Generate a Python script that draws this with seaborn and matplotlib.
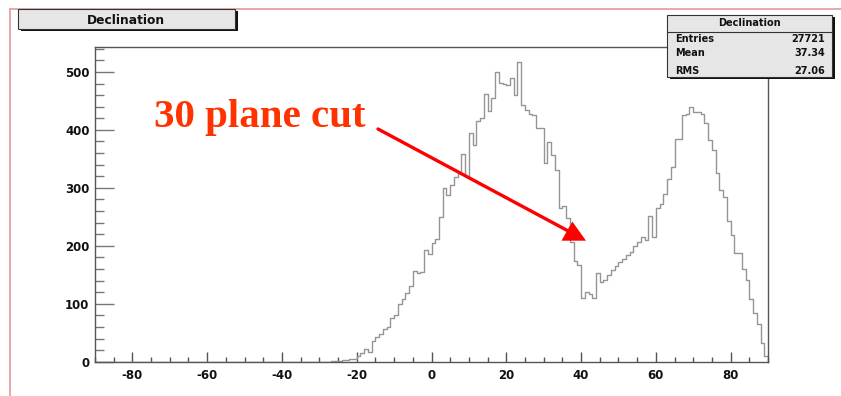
import numpy as np
import pandas as pd
import matplotlib
matplotlib.use("Agg")
import matplotlib.pyplot as plt
import seaborn as sns
from matplotlib.patches import Rectangle, Polygon
from matplotlib.lines import Line2D
from matplotlib.ticker import MultipleLocator

# ---- data -------------------------------------------------------------
bin_edges_range = (-90, 90)          # histogram range (degrees), 1-degree bins
first_nonzero_bin = -27              # left edge of first filled bin
counts_nonzero = [
    1, 1, 2, 3, 3, 4, 5,                                   # -27 .. -21
    10, 15, 22, 17, 35, 43, 48, 56, 60, 76,                # -20 .. -11
    80, 100, 108, 118, 130, 156, 153, 155, 193, 185,       # -10 .. -1
    205, 212, 250, 299, 288, 305, 319, 328, 358, 320,      # 0 .. 9
    395, 374, 415, 420, 462, 432, 455, 500, 481, 480,      # 10 .. 19
    478, 490, 461, 517, 443, 435, 428, 425, 403, 403,      # 20 .. 29
    343, 379, 357, 331, 265, 268, 248, 207, 173, 167,      # 30 .. 39
    110, 120, 116, 110, 153, 138, 141, 150, 158, 165,      # 40 .. 49
    172, 178, 184, 190, 199, 207, 216, 210, 252, 216,      # 50 .. 59
    265, 272, 290, 316, 336, 384, 385, 426, 428, 440,      # 60 .. 69
    430, 430, 428, 412, 383, 366, 325, 297, 285, 242,      # 70 .. 79
    219, 187, 187, 160, 141, 109, 84, 65, 32, 10,          # 80 .. 89
]
x_ticks = [-80, -60, -40, -20, 0, 20, 40, 60, 80]
y_ticks = [0, 100, 200, 300, 400, 500]
stats_labels = ["Entries", "Mean", "RMS"]
stats_values = ["27721", "37.34", "27.06"]
title_text = "Declination"
annotation_text = "30 plane cut"

# ---- build table --------------------------------------------------------
edges = np.arange(bin_edges_range[0], bin_edges_range[1] + 1, 1)
left_edges = edges[:-1]
weights = np.zeros(len(left_edges))
start = first_nonzero_bin - bin_edges_range[0]
weights[start:start + len(counts_nonzero)] = counts_nonzero
df = pd.DataFrame({"declination": left_edges + 0.5, "count": weights})

# ---- figure -------------------------------------------------------------
sns.set_style("white")
plt.rcParams["axes.unicode_minus"] = False
plt.rcParams["font.family"] = ["DejaVu Sans"]

W, H = 841, 396
fig = plt.figure(figsize=(W / 100, H / 100), dpi=100)
fig.patch.set_facecolor("white")


def fx(px):
    return px / W


def fy(py):
    return 1 - py / H


ax_l, ax_r, ax_t, ax_b = 95, 768, 47, 361.7
ax = fig.add_axes([fx(ax_l), fy(ax_b), fx(ax_r) - fx(ax_l), fy(ax_t) - fy(ax_b)])

sns.histplot(data=df, x="declination", weights="count", binwidth=1,
             binrange=bin_edges_range,
             element="step", fill=False, color="#959595", linewidth=1.0, ax=ax)

ax.set_xlim(-90, 90)
ax.set_ylim(0, 543)
ax.set_xlabel("")
ax.set_ylabel("")
ax.set_xticks(x_ticks)
ax.set_yticks(y_ticks)
ax.xaxis.set_minor_locator(MultipleLocator(5))
ax.yaxis.set_minor_locator(MultipleLocator(20))
for s in ax.spines.values():
    s.set_color("#555555")
    s.set_linewidth(1.0)
ax.tick_params(which="both", bottom=True, left=True, top=False, right=False)
ax.tick_params(axis="x", which="major", direction="in", length=7, width=1,
               color="#555555", labelsize=8.5, pad=5)
ax.tick_params(axis="x", which="minor", direction="in", length=3.5, width=1,
               color="#555555")
ax.tick_params(axis="y", which="major", direction="in", length=14, width=1,
               color="#777777", labelsize=8.5, pad=4)
ax.tick_params(axis="y", which="minor", direction="in", length=6.5, width=1,
               color="#777777")
for lab in ax.get_xticklabels() + ax.get_yticklabels():
    lab.set_fontweight("bold")
    lab.set_color("#111111")

# ---- canvas border (pink) ---------------------------------------------
fig.add_artist(Line2D([fx(10), fx(10)], [fy(396), fy(9)], color="#e39a9a", lw=1.2))
fig.add_artist(Line2D([fx(10), fx(841)], [fy(9), fy(9)], color="#e39a9a", lw=1.2))

# ---- title box ----------------------------------------------------------
def box(x0, y0, x1, y1, z=5):
    shadow = Rectangle((fx(x0 + 3), fy(y1 + 2)), fx(x1) - fx(x0), fy(y0) - fy(y1),
                       transform=fig.transFigure, facecolor="#111111",
                       edgecolor="none", zorder=z)
    main = Rectangle((fx(x0), fy(y1)), fx(x1) - fx(x0), fy(y0) - fy(y1),
                     transform=fig.transFigure, facecolor="#e6e6e6",
                     edgecolor="#333333", lw=0.8, zorder=z + 1)
    fig.add_artist(shadow)
    fig.add_artist(main)


box(18, 9, 235, 29)
fig.text(fx(126), fy(20), title_text, ha="center", va="center",
         fontsize=8.8, fontweight="bold", color="#111111", zorder=10)

# ---- stats box ----------------------------------------------------------
box(667, 15, 832, 77)
fig.add_artist(Line2D([fx(667), fx(832)], [fy(31.5), fy(31.5)],
                      color="#333333", lw=0.8, zorder=8))
fig.text(fx(749), fy(22.7), title_text, ha="center", va="center",
         fontsize=7, fontweight="bold", color="#111111", zorder=10)
for lab, val, yy in zip(stats_labels, stats_values, [39.3, 53.5, 70.5]):
    fig.text(fx(675), fy(yy), lab, ha="left", va="center",
             fontsize=7, fontweight="bold", color="#111111", zorder=10)
    fig.text(fx(825), fy(yy), val, ha="right", va="center",
             fontsize=7, fontweight="bold", color="#111111", zorder=10)

# ---- annotation -----------------------------------------------------------
fig.text(fx(154), fy(127.3), annotation_text, ha="left", va="baseline",
         fontsize=29.5, fontweight="bold", family=["Liberation Serif"],
         color="#ff3300", zorder=12)
fig.add_artist(Line2D([fx(378), fx(572)], [fy(129), fy(233)],
                      color="#ff0000", lw=2.4, zorder=12))
fig.add_artist(Polygon([(fx(572.3), fy(221.5)), (fx(561.5), fy(240.7)),
                        (fx(586), fy(240.7))], closed=True,
                       transform=fig.transFigure, facecolor="#ff0000",
                       edgecolor="none", zorder=13))

fig.savefig("out.png", dpi=100, facecolor="white")
